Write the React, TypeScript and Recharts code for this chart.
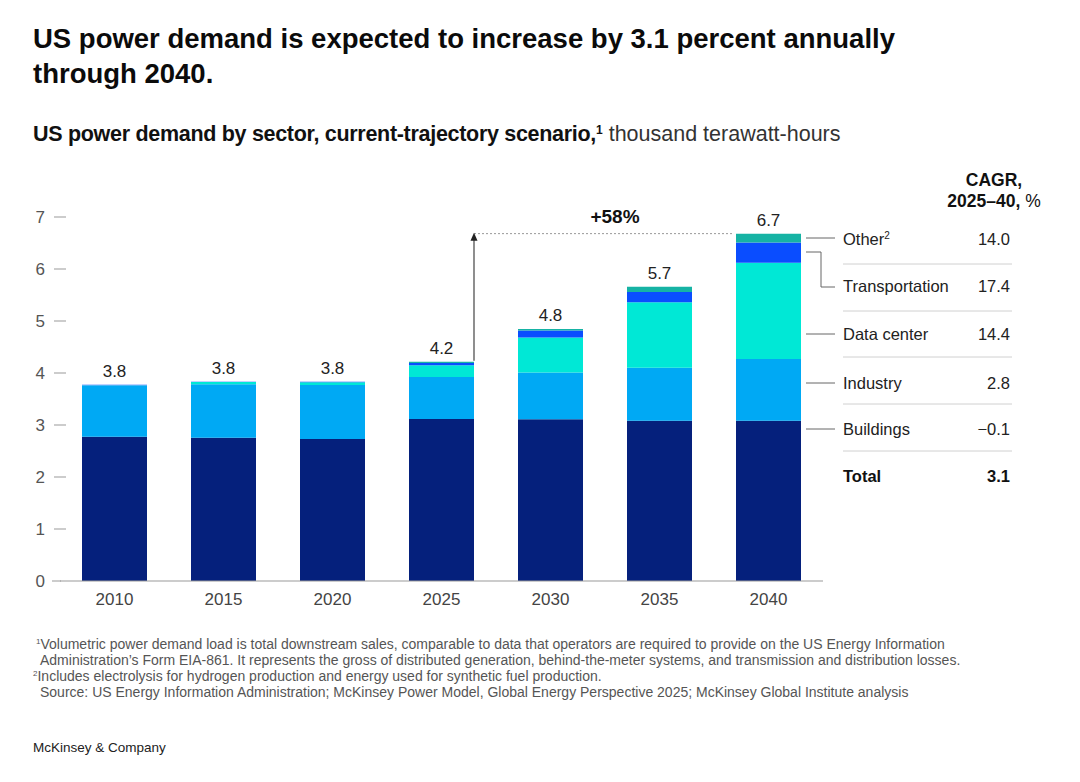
import React from "react";
import { BarChart, Bar, XAxis, YAxis, LabelList, ReferenceLine } from "recharts";

document.body.style.margin = "0";

const years = ["2010", "2015", "2020", "2025", "2030", "2035", "2040"];
const buildings = [2.775, 2.755, 2.73, 3.115, 3.11, 3.08, 3.08];
const industry = [0.985, 1.03, 1.04, 0.81, 0.9, 1.02, 1.19];
const dataCenter = [0.005, 0.04, 0.05, 0.225, 0.675, 1.26, 1.85];
const transportation = [0.01, 0.005, 0.01, 0.04, 0.13, 0.2, 0.39];
const other = [0, 0, 0, 0.025, 0.03, 0.1, 0.17];
const totalLabels = ["3.8", "3.8", "3.8", "4.2", "4.8", "5.7", "6.7"];
const yTicks = [0, 1, 2, 3, 4, 5, 6, 7];

const legendLabels = ["Other", "Transportation", "Data center", "Industry", "Buildings"];
const legendSup = ["2", "", "", "", ""];
const cagr = [14.0, 17.4, 14.4, 2.8, -0.1];
const cagrTotal = 3.1;

const COLORS = {
  buildings: "#05207c",
  industry: "#00a9f4",
  dataCenter: "#00e8d6",
  transportation: "#0a4dff",
  other: "#16b3a4",
};

const FONT = '"Liberation Sans", Arial, Helvetica, sans-serif';

const totals = years.map(
  (_, i) => buildings[i] + industry[i] + dataCenter[i] + transportation[i] + other[i]
);

const data = years.map((year, i) => ({
  year,
  buildings: buildings[i],
  industry: industry[i],
  dataCenter: dataCenter[i],
  transportation: transportation[i],
  other: other[i],
}));

const BAR = 65;

function YTick(props: any) {
  const { y, payload } = props;
  return (
    <g>
      <text x={45} y={y} textAnchor="end" dominantBaseline="central" fill="#555" fontSize={17} fontFamily={FONT}>
        {payload.value}
      </text>
      <line x1={payload.value === 0 ? 52 : 54} x2={payload.value === 0 ? 61 : 66} y1={y} y2={y} stroke="#999" strokeWidth={1} />
    </g>
  );
}

// total label above each stack, placed using the buildings bar's own pixel scale
function TotalLabel(props: any) {
  const { x, y, width, height, value, index } = props;
  if (!value) return null;
  const pxPerUnit = height / value;
  const top = y + height - totals[index] * pxPerUnit;
  return (
    <text x={x + width / 2} y={top - 8} textAnchor="middle" fill="#222" fontSize={17} fontFamily={FONT}>
      {totalLabels[index]}
    </text>
  );
}

const Sup = ({ children, size = 8, lift = 5 }: { children: React.ReactNode; size?: number; lift?: number }) => (
  <span style={{ fontSize: size, position: "relative", top: -lift, lineHeight: 0 }}>{children}</span>
);

const fmt = (v: number) => v.toFixed(1).replace("-", "\u2212");

const rowY = [239, 286, 334, 383, 429];
const sepY = [264, 311, 357, 404, 451];

export default function App() {
  const i25 = 3;
  const i40 = 6;
  return (
    <div style={{ position: "relative", width: 1080, height: 782, fontFamily: FONT, color: "#111", overflow: "hidden" }}>
      <div style={{ position: "absolute", left: 33, top: 21, fontSize: 27.5, fontWeight: 700, lineHeight: "35px", color: "#0b0b0b" }}>
        US power demand is expected to increase by 3.1 percent annually
        <br />
        through 2040.
      </div>
      <div style={{ position: "absolute", left: 33, top: 120, fontSize: 21.5, lineHeight: "28px", whiteSpace: "nowrap", color: "#111" }}>
        <span style={{ fontWeight: 700, letterSpacing: -0.3 }}>US power demand by sector, current-trajectory scenario,</span>
        <Sup size={12} lift={7}>
          <b>1</b>
        </Sup>
        <span style={{ color: "#333" }}> thousand terawatt-hours</span>
      </div>

      <div style={{ position: "absolute", left: 0, top: 0 }}>
        <BarChart width={1080} height={782} data={data} margin={{ top: 217, right: 257, bottom: 171, left: 0 }}>
          <XAxis
            dataKey="year"
            tickLine={false}
            tickSize={0}
            tickMargin={12}
            axisLine={{ stroke: "#999" }}
            height={30}
            tick={{ fill: "#444", fontSize: 17, fontFamily: FONT }}
          />
          <YAxis domain={[0, 7]} ticks={yTicks} axisLine={false} tickLine={false} width={60} tick={<YTick />} />
          <Bar dataKey="buildings" stackId="a" fill={COLORS.buildings} barSize={BAR} isAnimationActive={false}>
            <LabelList dataKey="buildings" content={<TotalLabel />} />
          </Bar>
          <Bar dataKey="industry" stackId="a" fill={COLORS.industry} barSize={BAR} isAnimationActive={false} />
          <Bar dataKey="dataCenter" stackId="a" fill={COLORS.dataCenter} barSize={BAR} isAnimationActive={false} />
          <Bar dataKey="transportation" stackId="a" fill={COLORS.transportation} barSize={BAR} isAnimationActive={false} />
          <Bar dataKey="other" stackId="a" fill={COLORS.other} barSize={BAR} isAnimationActive={false} />
          <ReferenceLine
            ifOverflow="visible"
            segment={[
              { x: years[i25], y: totals[i40] },
              { x: years[i40], y: totals[i40] },
            ]}
            shape={(p: any) => (
              <line x1={p.x1 + BAR / 2} x2={p.x2 - BAR / 2 - 3} y1={p.y1} y2={p.y2} stroke="#999" strokeDasharray="2 2" />
            )}
          />
          <ReferenceLine
            ifOverflow="visible"
            segment={[
              { x: years[i25], y: totals[i25] },
              { x: years[i25], y: totals[i40] },
            ]}
            shape={(p: any) => {
              const x = p.x1 + BAR / 2;
              const top = Math.min(p.y1, p.y2);
              const bot = Math.max(p.y1, p.y2);
              return (
                <g>
                  <line x1={x} x2={x} y1={bot - 1} y2={top + 4} stroke="#444" strokeWidth={1.2} />
                  <path d={`M${x - 3.5},${top + 7} L${x},${top - 1} L${x + 3.5},${top + 7} Z`} fill="#222" />
                </g>
              );
            }}
          />
        </BarChart>
      </div>

      <div style={{ position: "absolute", left: 560, top: 206, width: 110, textAlign: "center", fontSize: 19, fontWeight: 700, color: "#111" }}>
        +58%
      </div>

      <div style={{ position: "absolute", left: 924, top: 170, width: 140, textAlign: "center", fontSize: 17.5, lineHeight: "21px", color: "#111" }}>
        <b>CAGR,</b>
        <br />
        <b>2025–40,</b> %
      </div>

      <svg style={{ position: "absolute", left: 0, top: 0 }} width={1080} height={782}>
        <line x1={806} x2={835} y1={238} y2={238} stroke="#666" />
        <polyline points="806,252 821,252 821,287 835,287" fill="none" stroke="#666" />
        <line x1={806} x2={835} y1={334} y2={334} stroke="#666" />
        <line x1={806} x2={835} y1={383} y2={383} stroke="#666" />
        <line x1={806} x2={835} y1={429} y2={429} stroke="#666" />
        {sepY.map((y) => (
          <line key={y} x1={843} x2={1012} y1={y} y2={y} stroke="#d0d0d0" />
        ))}
      </svg>

      {legendLabels.map((l, i) => (
        <React.Fragment key={l}>
          <div style={{ position: "absolute", left: 843, top: rowY[i] - 11, fontSize: 16.5, lineHeight: "22px", color: "#222" }}>
            {l}
            {legendSup[i] && <Sup size={10} lift={6}>{legendSup[i]}</Sup>}
          </div>
          <div style={{ position: "absolute", left: 930, width: 80, textAlign: "right", top: rowY[i] - 11, fontSize: 16.5, lineHeight: "22px", color: "#222" }}>
            {fmt(cagr[i])}
          </div>
        </React.Fragment>
      ))}
      <div style={{ position: "absolute", left: 843, top: 465, fontSize: 16.5, lineHeight: "22px", fontWeight: 700, color: "#111" }}>Total</div>
      <div style={{ position: "absolute", left: 930, width: 80, textAlign: "right", top: 465, fontSize: 16.5, lineHeight: "22px", fontWeight: 700, color: "#111" }}>
        {fmt(cagrTotal)}
      </div>

      <div style={{ position: "absolute", left: 33, top: 636, fontSize: 14, lineHeight: "16px", color: "#555", whiteSpace: "nowrap" }}>
        <div style={{ paddingLeft: 3 }}>
          <Sup>1</Sup>Volumetric power demand load is total downstream sales, comparable to data that operators are required to provide on the US Energy Information
        </div>
        <div style={{ paddingLeft: 7 }}>
          Administration’s Form EIA-861. It represents the gross of distributed generation, behind-the-meter systems, and transmission and distribution losses.
        </div>
        <div>
          <Sup>2</Sup>Includes electrolysis for hydrogen production and energy used for synthetic fuel production.
        </div>
        <div style={{ paddingLeft: 7 }}>
          Source: US Energy Information Administration; McKinsey Power Model, Global Energy Perspective 2025; McKinsey Global Institute analysis
        </div>
      </div>

      <div style={{ position: "absolute", left: 33, top: 740, fontSize: 13.5, color: "#222" }}>McKinsey &amp; Company</div>
    </div>
  );
}
